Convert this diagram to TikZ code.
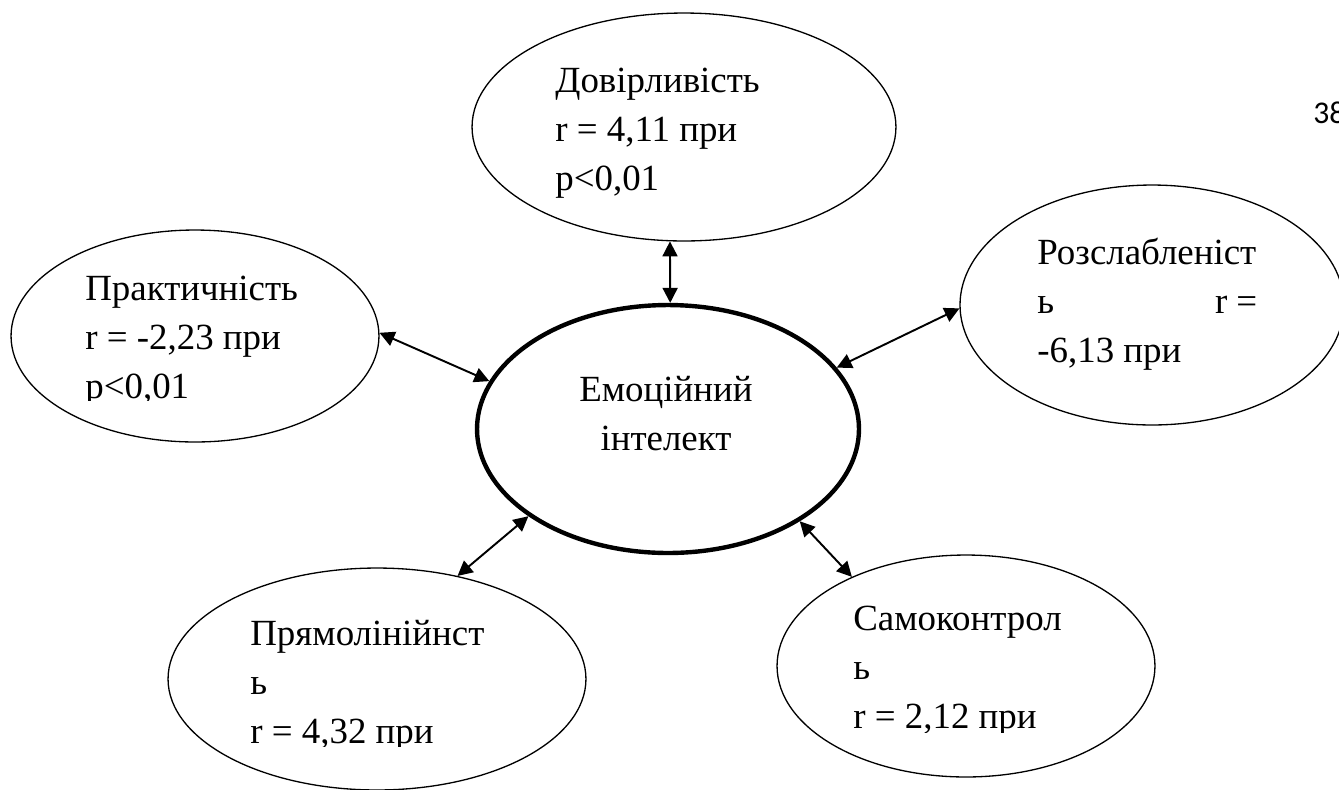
\documentclass[tikz,border=0pt]{standalone}
\usepackage{fontspec}
\setmainfont{Liberation Serif}
\newfontfamily\pagefont{Carlito}
\usetikzlibrary{arrows.meta,shapes.geometric}
\tikzstyle{trait}=[ellipse,draw,line width=0.75pt,inner sep=0pt]
\tikzstyle{core}=[ellipse,draw,line width=2.5pt,inner sep=0pt]
\tikzstyle{txt}=[anchor=base west,align=left,inner sep=0pt,font=\fontsize{21}{27.8}\selectfont]
\tikzstyle{link}=[line width=1.1pt,{Triangle[length=8.5pt,width=8.5pt]}-{Triangle[length=8.5pt,width=8.5pt]}]

\begin{document}
\begin{tikzpicture}[x=0.02cm,y=-0.02cm]
\useasboundingbox (0,0) rectangle (1339,789);

% the six ellipses
\node[trait,minimum width=8.48cm,minimum height=4.56cm] (dov) at (684,127) {};
\node[trait,minimum width=7.36cm,minimum height=4.24cm] (prakt) at (195,336) {};
\node[trait,minimum width=7.68cm,minimum height=4.8cm] (rozsl) at (1152,305) {};
\node[trait,minimum width=8.36cm,minimum height=4.44cm] (pryam) at (377,679) {};
\node[trait,minimum width=7.56cm,minimum height=4.44cm] (samo) at (966,666) {};
\node[core,minimum width=7.64cm,minimum height=4.96cm] (emo) at (668,429) {};

% texts (base = last line)
\node[txt] (dovt) at (555,190) {Довірливість\\r = 4,11 при\\p<0,01};
\node[txt] (rozslt) at (1037,362) {Розслабленіст\\\makebox[4.4cm]{ь\hfill r =}\\-6,13 при};
\node[txt,anchor=base,align=center] (emot) at (666,450) {Емоційний\\інтелект};
\begin{scope}
  \clip (0,0) rectangle (1339,400);
  \node[txt] (praktt) at (85,398) {Практичність\\r = -2,23 при\\p<0,01};
\end{scope}
\begin{scope}
  \clip (0,560) rectangle (700,746);
  \node[txt] (pryamt) at (250,743) {Прямолінійнст\\ь\\r = 4,32 при};
\end{scope}
\begin{scope}
  \clip (700,560) rectangle (1339,732);
  \node[txt] (samot) at (853,728) {Самоконтрол\\ь\\r = 2,12 при};
\end{scope}

% page number
\node[anchor=base west,inner sep=0pt,font=\fontsize{18}{18}\pagefont] (pg) at (1313,123) {38};

% links
\path[link] (dov.263) edge (emo.89);
\path[link] (prakt.1) edge (emo.165);
\path[link] (rozsl.181) edge (emo.20);
\path[link] (pryam.52) edge (emo.212);
\path[link] (samo.142) edge (emo.325);
\end{tikzpicture}
\end{document}
